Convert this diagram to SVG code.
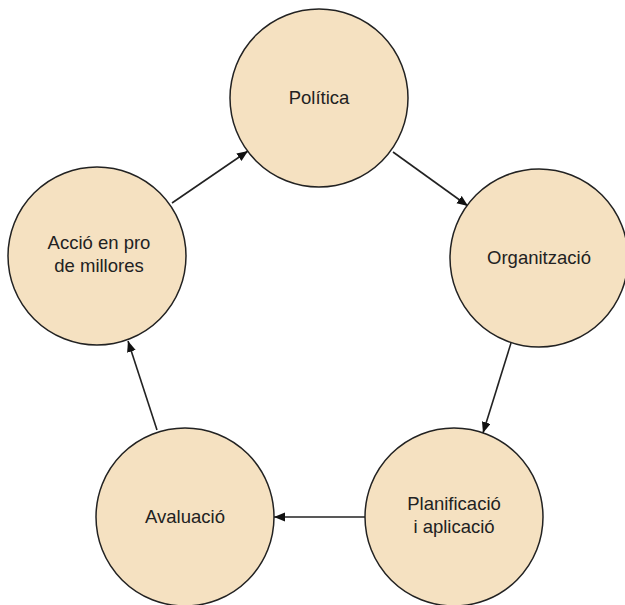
<svg xmlns="http://www.w3.org/2000/svg" width="625" height="605" viewBox="0 0 625 605">
<defs>
<style>
.node circle{fill:#F5E1C1;stroke:#222;stroke-width:1.5}
.node text{font-family:"Liberation Sans",Arial,sans-serif;font-size:18.5px;fill:#222;text-anchor:middle}
.edges line{stroke:#222;stroke-width:1.6;marker-end:url(#ah)}
</style>
<marker id="ah" markerUnits="userSpaceOnUse" markerWidth="12" markerHeight="10" refX="11" refY="4.5" orient="auto">
<path d="M0,0 L11,4.5 L0,9 z" fill="#111"/>
</marker>
</defs>
<rect width="625" height="605" fill="#fff"/>
<g class="edges">
<line x1="172" y1="203" x2="248" y2="151"/>
<line x1="393" y1="152" x2="468" y2="206"/>
<line x1="511" y1="343" x2="483" y2="433"/>
<line x1="365" y1="517" x2="274" y2="517"/>
<line x1="157" y1="430" x2="128" y2="341"/>
</g>
<g id="politica" class="node"><circle cx="319" cy="98" r="89"/><text x="319" y="104">Política</text></g>
<g id="organitzacio" class="node"><circle cx="539" cy="258" r="89"/><text x="539" y="264">Organització</text></g>
<g id="planificacio" class="node"><circle cx="454" cy="517" r="89"/><text x="454" y="510">Planificació</text><text x="454" y="533">i aplicació</text></g>
<g id="avaluacio" class="node"><circle cx="185" cy="517" r="89"/><text x="185" y="523">Avaluació</text></g>
<g id="accio" class="node"><circle cx="97" cy="256" r="89"/><text x="99" y="249">Acció en pro</text><text x="99" y="272">de millores</text></g>
</svg>
